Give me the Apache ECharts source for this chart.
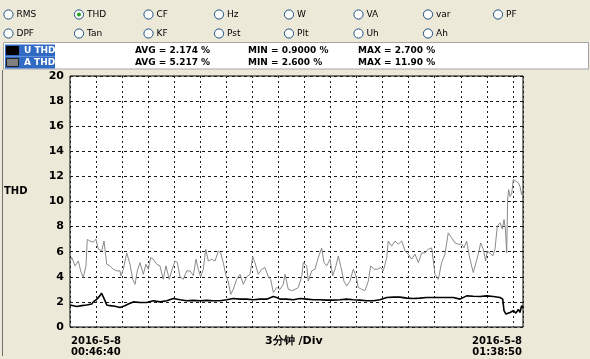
<!DOCTYPE html>
<html><head><meta charset="utf-8">
<script src="https://cdn.jsdelivr.net/npm/echarts@6/dist/echarts.min.js"></script>
<style>html,body{margin:0;padding:0;background:#ECE9D8}#c{width:590px;height:359px}</style>
</head><body><div id="c"></div>
<script>
// ---- data (minutes from 2016-5-8 00:46:40) ----
const spanMinutes = 3130 / 60;          // 00:46:40 -> 01:38:50
const startLabel = ['2016-5-8', '00:46:40'];
const endLabel = ['2016-5-8', '01:38:50'];
const divLabel = '3分钟 /Div';
const yAxisName = 'THD';
const radioRow1 = ['RMS', 'THD', 'CF', 'Hz', 'W', 'VA', 'var', 'PF'];
const radioRow2 = ['DPF', 'Tan', 'KF', 'Pst', 'Plt', 'Uh', 'Ah'];
const selectedRadio = 'THD';
const seriesNames = ['U THD', 'A THD'];
const statsU = ['AVG = 2.174 %', 'MIN = 0.9000 %', 'MAX = 2.700 %'];
const statsA = ['AVG = 5.217 %', 'MIN = 2.600 %', 'MAX = 11.90 %'];

const aTime = [0,0.2,0.58,0.96,1.23,1.53,1.84,1.99,2.30,2.68,2.99,3.26,3.65,3.92,4.23,4.61,4.99,5.38,5.76,5.87,6.14,6.53,6.91,7.22,7.49,7.75,8.06,8.44,8.75,9.02,9.29,9.59,9.98,10.36,10.74,11.05,11.43,11.71,12.09,12.36,12.67,13.05,13.44,13.82,14.20,14.51,14.77,15.05,15.35,15.63,15.93,16.32,16.70,17.08,17.35,17.65,17.96,18.23,18.51,18.80,19.20,19.58,19.96,20.35,20.73,21.04,21.30,21.68,22.07,22.45,22.84,23.11,23.41,23.80,24.18,24.56,24.76,25.14,25.53,25.91,26.29,26.68,26.87,27.26,27.44,27.83,28.21,28.59,28.98,29.25,29.56,29.94,30.25,30.63,30.90,31.17,31.55,31.86,32.24,32.62,32.93,33.20,33.59,33.97,34.35,34.63,35.01,35.39,35.78,36.08,36.47,36.65,37.04,37.42,37.80,38.20,38.58,38.96,39.35,39.73,40.11,40.50,40.88,41.26,41.65,42.03,42.41,42.80,43.18,43.56,43.68,43.95,44.33,44.72,45.11,45.37,45.68,45.98,46.25,46.44,46.75,47.02,47.29,47.59,47.87,48.05,48.36,48.68,48.94,49.21,49.52,49.78,49.98,50.13,50.29,50.40,50.52,50.67,50.86,51.05,51.19,51.36,51.62,51.82,52.01,52.13];
const aValue = [5.2,5.55,4.87,5.26,4.47,3.95,4.87,6.98,6.85,6.75,7.0,6.2,6.06,6.85,5.0,4.87,4.6,4.47,4.47,4.07,4.6,5.9,5.0,3.8,3.4,4.47,5.13,4.2,5.0,4.6,5.53,5.4,5.0,4.87,3.8,4.87,3.8,4.47,5.26,5.13,4.0,3.8,4.47,4.47,4.1,5.4,4.6,4.0,4.6,6.2,5.26,5.4,5.26,6.06,5.9,5.13,4.1,3.6,2.6,3.0,3.8,4.2,3.4,4.0,4.2,5.6,5.13,4.2,4.6,4.74,4.0,3.8,2.75,3.15,3.0,3.4,4.2,3.0,2.9,3.0,3.15,4.0,5.13,4.87,3.65,4.47,4.6,5.53,6.3,5.13,4.87,5.4,4.07,4.87,5.66,4.87,3.65,3.27,3.65,4.6,4.07,3.15,3.0,2.9,3.65,4.87,4.6,4.6,4.74,4.47,5.53,6.85,6.45,6.85,6.6,6.85,6.06,5.8,5.4,5.8,5.13,5.9,5.9,6.2,6.3,4.2,3.8,5.13,5.8,7.5,7.65,7.1,6.7,6.6,6.6,6.3,6.85,5.66,4.87,4.34,5.13,5.8,6.7,6.2,5.26,6.06,5.9,5.66,6.2,8.04,8.3,7.8,8.57,7.9,5.9,10.2,10.95,10.4,10.6,11.75,11.9,11.6,11.5,11.2,10.55,10.95];

const uTime = [0,0.2,0.77,1.35,1.92,2.50,2.68,3.07,3.45,3.63,3.83,4.03,4.23,4.61,5.18,5.76,6.33,6.71,7.29,8.06,8.83,9.59,10.36,11.14,11.90,12.67,13.44,14.20,14.97,15.74,16.50,17.27,18.04,18.80,19.58,20.35,21.11,21.88,22.65,23.41,23.80,24.18,24.95,25.71,26.49,27.26,28.02,28.79,29.56,30.32,31.09,31.86,32.62,33.39,34.17,34.93,35.70,36.47,37.23,38.00,38.77,39.53,40.30,41.08,41.84,42.61,43.38,44.15,44.91,45.68,46.44,47.21,47.98,48.75,49.52,49.83,49.98,50.21,50.38,50.67,51.05,51.36,51.62,51.82,52.01,52.13];
const uValue = [1.75,1.75,1.64,1.7,1.75,1.83,2.0,2.2,2.5,2.7,2.55,2.1,1.75,1.7,1.65,1.56,1.7,1.83,2.0,1.95,1.95,2.09,2.0,2.09,2.27,2.17,2.09,2.12,2.09,2.12,2.09,2.09,2.17,2.27,2.22,2.22,2.17,2.22,2.22,2.43,2.35,2.22,2.22,2.17,2.27,2.22,2.17,2.17,2.14,2.14,2.17,2.22,2.17,2.14,2.09,2.09,2.17,2.35,2.38,2.38,2.3,2.27,2.3,2.35,2.35,2.35,2.35,2.35,2.22,2.48,2.45,2.43,2.48,2.43,2.35,2.22,1.3,1.03,0.9,1.16,1.3,1.1,1.4,1.16,1.7,1.5];

// ---- chart ----
const pair = (t, v) => t.map((x, i) => [x, v[i]]);
const FONT = '"DejaVu Sans", Verdana, sans-serif';
const graphics = [];

// radio buttons
function radio(label, x, y) {
  graphics.push({ type: 'circle', shape: { cx: x, cy: y, r: 4.6 },
    style: { fill: '#fff', stroke: '#1C5180', lineWidth: 1 }, z: 10 });
  if (label === selectedRadio) {
    graphics.push({ type: 'circle', shape: { cx: x, cy: y, r: 2 },
      style: { fill: '#21A121' }, z: 11 });
  }
  graphics.push({ type: 'text', x: x + 8, y: y, z: 10,
    style: { text: label, font: '9px ' + FONT, fill: '#000', align: 'left', verticalAlign: 'middle' } });
}
const radioX = [8.5, 79, 148.5, 219, 289, 358.5, 428, 498];
radioRow1.forEach((l, i) => radio(l, radioX[i], 14.5));
radioRow2.forEach((l, i) => radio(l, radioX[i], 33.5));

// legend panel
graphics.push({ type: 'rect', shape: { x: 3.5, y: 42.5, width: 585, height: 26.5 },
  style: { fill: '#fff', stroke: '#A5A5A5', lineWidth: 1 }, z: 5 });
const rowsY = [50.5, 62.5];
const swatch = [{ fill: '#000', stroke: '#000' }, { fill: '#808080', stroke: '#202020' }];
[statsU, statsA].forEach((st, r) => {
  graphics.push({ type: 'rect', shape: { x: 5, y: rowsY[r] - 6, width: 50, height: 12 },
    style: { fill: '#316AC5' }, z: 6 });
  graphics.push({ type: 'rect', shape: { x: 6.5, y: rowsY[r] - 4, width: 12, height: 8 },
    style: { fill: swatch[r].fill, stroke: swatch[r].stroke, lineWidth: 1 }, z: 7 });
  graphics.push({ type: 'text', x: 24, y: rowsY[r], z: 7,
    style: { text: seriesNames[r], font: 'bold 9px ' + FONT, fill: '#fff', verticalAlign: 'middle' } });
  [135, 248, 358].forEach((x, k) => {
    graphics.push({ type: 'text', x: x, y: rowsY[r], z: 7,
      style: { text: st[k], font: 'bold 9px ' + FONT, fill: '#000', verticalAlign: 'middle' } });
  });
});

// frame line on the left of the lower panel
graphics.push({ type: 'line', shape: { x1: 2.5, y1: 70, x2: 2.5, y2: 356 },
  style: { stroke: '#6f6f6f', lineWidth: 1 }, z: 5 });

// y axis name and x axis labels
graphics.push({ type: 'text', x: 4, y: 191, z: 5,
  style: { text: yAxisName, font: 'bold 10px ' + FONT, fill: '#000', verticalAlign: 'middle' } });
graphics.push({ type: 'text', x: 71, y: 341, z: 5,
  style: { text: startLabel[0], font: 'bold 10px ' + FONT, fill: '#000', verticalAlign: 'middle' } });
graphics.push({ type: 'text', x: 71, y: 352.5, z: 5,
  style: { text: startLabel[1], font: 'bold 10px ' + FONT, fill: '#000', verticalAlign: 'middle' } });
graphics.push({ type: 'text', x: 522, y: 341, z: 5,
  style: { text: endLabel[0], font: 'bold 10px ' + FONT, fill: '#000', align: 'right', verticalAlign: 'middle' } });
graphics.push({ type: 'text', x: 522, y: 352.5, z: 5,
  style: { text: endLabel[1], font: 'bold 10px ' + FONT, fill: '#000', align: 'right', verticalAlign: 'middle' } });
graphics.push({ type: 'text', x: 265, y: 341, z: 5,
  style: { text: divLabel, font: 'bold 11px ' + FONT, fill: '#000', verticalAlign: 'middle' } });

const chart = echarts.init(document.getElementById('c'), null, { renderer: 'canvas' });
chart.setOption({
  backgroundColor: '#ECE9D8',
  animation: false,
  graphic: graphics,
  grid: { left: 70, top: 76, width: 453, height: 251, show: true,
    backgroundColor: '#fff', borderColor: '#000', borderWidth: 1 },
  xAxis: {
    type: 'value', min: 0, max: spanMinutes, interval: 3,
    axisLine: { show: false }, axisTick: { show: false }, axisLabel: { show: false },
    splitLine: { show: true, lineStyle: { color: '#1a1a1a', width: 1, type: [2, 3] } }
  },
  yAxis: {
    type: 'value', min: 0, max: 20, interval: 2,
    axisLine: { show: false }, axisTick: { show: false },
    axisLabel: { margin: 6, fontFamily: 'DejaVu Sans', fontWeight: 'bold', fontSize: 11, color: '#000' },
    splitLine: { show: true, lineStyle: { color: '#1a1a1a', width: 1, type: [3, 3] } }
  },
  series: [
    { name: seriesNames[1], type: 'line', data: pair(aTime, aValue), showSymbol: false,
      lineStyle: { color: '#8a8a8a', width: 1 }, z: 3 },
    { name: seriesNames[0], type: 'line', data: pair(uTime, uValue), showSymbol: false,
      lineStyle: { color: '#000', width: 1.6 }, z: 4 }
  ]
});
</script></body></html>
